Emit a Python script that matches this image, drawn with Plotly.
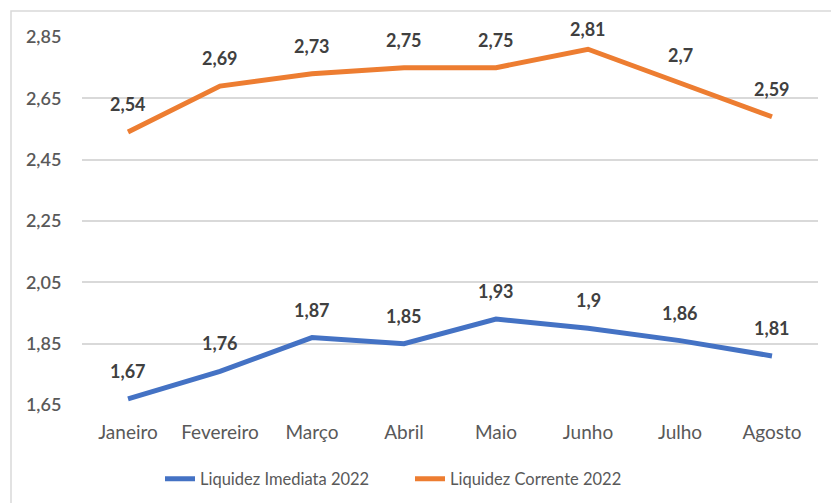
import plotly.graph_objects as go

meses = ["Janeiro", "Fevereiro", "Março", "Abril", "Maio", "Junho", "Julho", "Agosto"]
imediata = [1.67, 1.76, 1.87, 1.85, 1.93, 1.9, 1.86, 1.81]
corrente = [2.54, 2.69, 2.73, 2.75, 2.75, 2.81, 2.7, 2.59]
yticks = [1.65, 1.85, 2.05, 2.25, 2.45, 2.65, 2.85]

FONT = "Lato, 'Open Sans', sans-serif"
Y_RANGE = [1.65, 2.85]
PLOT_TOP, PLOT_H = 37, 368
LABEL_MIN_Y = 29  # labels are kept inside the chart frame (as Excel does)

fig = go.Figure()
fig.add_trace(go.Scatter(x=meses, y=imediata, mode="lines", name="Liquidez Imediata 2022",
                         line=dict(color="#4472C4", width=5)))
fig.add_trace(go.Scatter(x=meses, y=corrente, mode="lines", name="Liquidez Corrente 2022",
                         line=dict(color="#ED7D31", width=5)))

def fmt(v):
    return ("%g" % v).replace(".", ",")

for serie in (imediata, corrente):
    for m, v in zip(meses, serie):
        py = PLOT_TOP + (Y_RANGE[1] - v) / (Y_RANGE[1] - Y_RANGE[0]) * PLOT_H
        shift = min(28, py - LABEL_MIN_Y)
        fig.add_annotation(x=m, y=v, text="<b>%s</b>" % fmt(v), showarrow=False,
                           yshift=shift, font=dict(size=18, color="#404040", family=FONT))

fig.add_shape(type="rect", xref="paper", yref="paper",
              x0=(11 - 82) / 736, x1=(840 - 82) / 736,
              y0=(405 - 515) / 368, y1=(405 - 11) / 368,
              line=dict(color="#d9d9d9", width=1.5), fillcolor="rgba(0,0,0,0)", layer="below")

fig.update_layout(
    width=831, height=503,
    margin=dict(l=82, r=13, t=37, b=98, autoexpand=False),
    paper_bgcolor="white", plot_bgcolor="white",
    separators=",.",
    font=dict(family=FONT, color="#595959", size=16),
    showlegend=True,
    legend=dict(orientation="h", x=(160 - 82) / 736, xanchor="left", y=(405 - 479) / 368, yanchor="middle",
                font=dict(size=16.5, color="#595959"), entrywidth=205, tracegroupgap=0),
    xaxis=dict(range=[-0.5, 7.5], showgrid=False, showline=False, zeroline=False, ticks="outside", ticklen=10,
               tickcolor="rgba(0,0,0,0)", tickfont=dict(size=19, color="#595959")),
    yaxis=dict(range=Y_RANGE, tickvals=yticks, tickformat=".2f", showgrid=True,
               gridcolor="#d9d9d9", gridwidth=1.5, zeroline=False, showline=False,
               ticks="outside", ticklen=16, tickcolor="rgba(0,0,0,0)",
               tickfont=dict(size=18, color="#595959", weight=600)),
)
fig.write_html("out.html", config={"displayModeBar": False},
               post_script="document.body.style.margin='0';")
